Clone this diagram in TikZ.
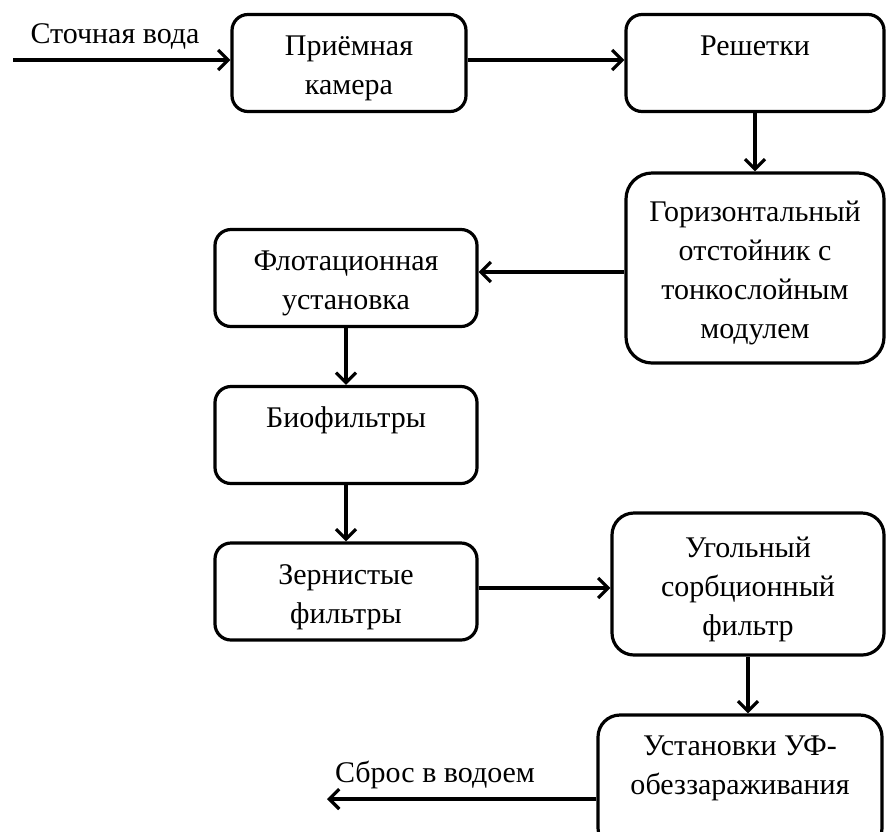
\documentclass[tikz,border=0pt]{standalone}
\usepackage{fontspec}
\setmainfont{Liberation Serif}
\usetikzlibrary{arrows.meta}

\tikzset{
  blok/.style={draw, line width=1.6pt, rounded corners=8pt, align=center,
    font=\fontsize{15}{19.5}\selectfont, inner sep=2pt, text depth=3.5pt},
  dve/.style={text height=35pt},
  tri/.style={text height=54.5pt},
  chetyre/.style={text height=74pt},
  strelka/.style={line width=1.6pt, -{Straight Barb[length=5pt,width=10pt,line width=1.6pt]}},
  podpis/.style={anchor=base, font=\fontsize{15}{18}\selectfont}
}

\begin{document}
\begin{tikzpicture}[x=0.5pt, y=-0.5pt]
	\useasboundingbox (0,0) rectangle (887,831);
	
	% 1. блоки схемы
	\node[blok, dve, minimum width=117pt, minimum height=48.5pt] (priem) at (349,63) {Приёмная\\камера};
	\node[blok, dve, minimum width=129pt, minimum height=48.5pt] (resh) at (755,63) {Решетки\\\mbox{}};
	\node[blok, chetyre, minimum width=129pt, minimum height=95pt, rounded corners=13pt] (otst) at (755,268)
		{Горизонтальный\\отстойник с\\тонкослойным\\модулем};
	\node[blok, dve, minimum width=131pt, minimum height=48.5pt] (flot) at (346,278) {Флотационная\\установка};
	\node[blok, dve, minimum width=131pt, minimum height=48.5pt] (bio) at (346,435) {Биофильтры\\\mbox{}};
	\node[blok, dve, minimum width=131pt, minimum height=48.5pt] (zern) at (346,591.5) {Зернистые\\фильтры};
	\node[blok, tri, minimum width=136pt, minimum height=71pt, rounded corners=11pt] (ugol) at (748,584)
		{Угольный\\сорбционный\\фильтр};
	\node[blok, tri, minimum width=142pt, minimum height=67.5pt, rounded corners=11pt] (uf) at (740,782.5)
		{Установки УФ-\\обеззараживания\\\mbox{}};
	
	% 2. вход и выход
	\coordinate (vhod) at (13,60);
	\coordinate (vyhod) at (327,799);
	\node[podpis] (stok) at (115,43) {Сточная вода};
	\node[podpis] (sbros) at (435,782) {Сброс в водоем};
	
	% 3. стрелки
	\draw[strelka] (vhod) -- (vhod -| priem.west);
	\draw[strelka] (priem.east |- vhod) -- (resh.west |- vhod);
	\draw[strelka] (resh.south) -- (resh.south |- otst.north);
	\draw[strelka] (otst.west |- 0,272) -- (flot.east |- 0,272);
	\draw[strelka] (flot.south) -- (bio.north);
	\draw[strelka] (bio.south) -- (zern.north);
	\draw[strelka] (zern.east |- 0,588) -- (ugol.west |- 0,588);
	\draw[strelka] (ugol.south) -- (ugol.south |- uf.north);
	\draw[strelka] (uf.west |- vyhod) -- (vyhod);
	
\end{tikzpicture}
\end{document}
